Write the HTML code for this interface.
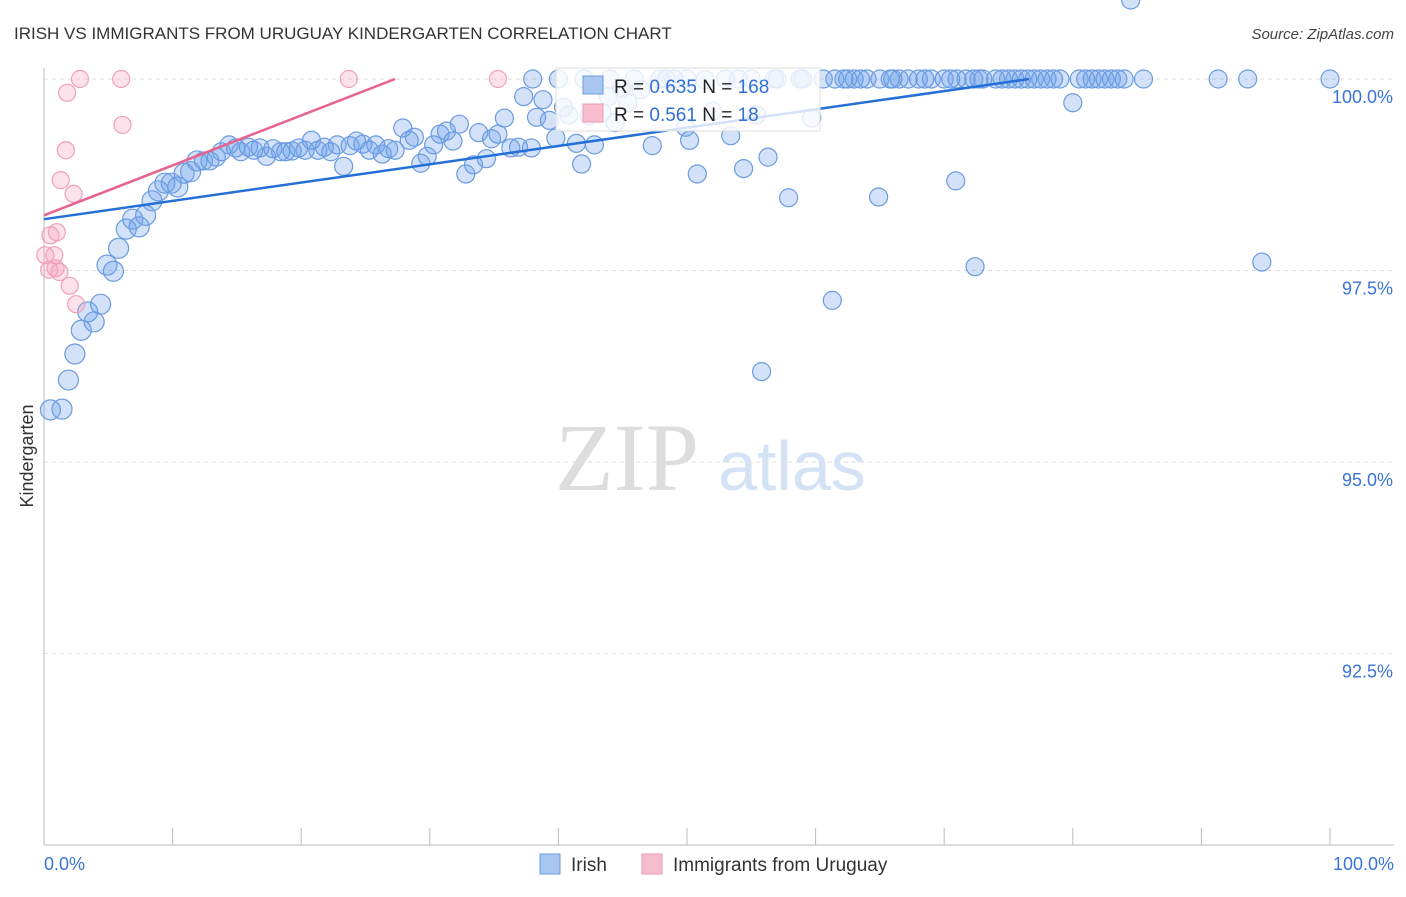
<!DOCTYPE html>
<html><head><meta charset="utf-8"><style>
body{margin:0;background:#fff;width:1406px;height:892px;overflow:hidden;font-family:"Liberation Sans",sans-serif}
</style></head><body>
<svg id="chart" width="1406" height="892" xmlns="http://www.w3.org/2000/svg">
<text x="14" y="39" font-size="17" fill="#333">IRISH VS IMMIGRANTS FROM URUGUAY KINDERGARTEN CORRELATION CHART</text>
<text x="1394" y="39" font-size="15" fill="#444" text-anchor="end" font-style="italic">Source: ZipAtlas.com</text>
<text x="555" y="490" font-size="96" fill="#ddd" font-family="Liberation Serif,serif">ZIP</text>
<text x="718" y="490" font-size="70" fill="#d4e2f6">atlas</text>
<text transform="translate(33,456) rotate(-90)" font-size="18" fill="#333" text-anchor="middle">Kindergarten</text>
<g id="grid"></g><g id="marks"></g><g id="lines"></g>
<g>
<rect x="556" y="68" width="264" height="63" fill="#fff" fill-opacity="0.8" stroke="#ddd"/>
<rect x="583" y="76" width="20" height="18" fill="#a9c6f0" stroke="#6a9be0"/>
<rect x="583" y="104" width="20" height="18" fill="#f7bccd" stroke="#ee9ab4"/>
<text x="614" y="93" font-size="19" fill="#222">R = <tspan fill="#2f6fd6">0.635</tspan>   N = <tspan fill="#2f6fd6">168</tspan></text>
<text x="614" y="121" font-size="19" fill="#222">R =  <tspan fill="#2f6fd6">0.561</tspan>   N =   <tspan fill="#2f6fd6">18</tspan></text>
</g>
<g>
<rect x="540" y="854" width="20" height="20" fill="#a9c6f0" stroke="#6a9be0"/>
<text x="571" y="871" font-size="19" fill="#333">Irish</text>
<rect x="642" y="854" width="20" height="20" fill="#f7bccd" stroke="#ee9ab4"/>
<text x="673" y="871" font-size="19" fill="#333">Immigrants from Uruguay</text>
</g>
<text x="44" y="870" font-size="18" fill="#3a74d8">0.0%</text>
<text x="1394" y="870" font-size="18" fill="#3a74d8" text-anchor="end">100.0%</text>
</svg>
<script>
const yTicks=[100,97.5,95,92.5];
const yTickLabels=["100.0%","97.5%","95.0%","92.5%"];
const xTicks=[0,10,20,30,40,50,60,70,80,90,100];
const irishX=[0.5,1.4,1.9,2.4,2.9,3.9,3.4,4.4,4.9,5.4,5.8,6.4,7.4,6.9,7.9,8.4,8.9,9.4,9.9,10.4,10.9,11.4,11.9,12.4,12.9,13.4,13.8,14.4,14.9,15.3,15.9,16.3,16.8,17.3,17.8,18.4,18.8,19.3,19.8,20.3,20.8,21.3,21.8,22.3,22.8,23.3,23.8,24.3,24.8,25.3,25.8,26.3,26.8,27.3,27.9,28.4,28.8,29.3,29.8,30.3,30.8,31.3,31.8,32.3,32.8,33.4,33.8,34.4,34.8,35.3,35.8,36.3,36.9,37.3,37.9,38.3,38.8,39.3,39.8,40.4,40.8,41.4,41.8,42.4,42.8,43.4,43.9,44.4,44.9,45.4,46.4,47.3,49.9,50.2,50.8,52.0,53.4,54.4,55.4,55.8,56.3,57.9,59.7,61.3,64.9,70.9,72.4,80.0,94.7,
45.9,47.9,48.4,51.4,56.8,58.8,60.6,61.5,62.2,63,64,65,65.8,66.5,67.2,68,69,70,71,71.7,72.3,73,74,74.5,75,76,77,77.5,78,79,80.5,81.5,82,83,83.5,84,85.5,91.3,93.6,100,38,40,42,44,49,50,53,54,55,57,59,62.5,63.5,66,68.5,70.5,72.7,75.5,76.5,78.5,81,82.5,84.5];
const irishY=[95.68,95.69,96.07,96.41,96.72,96.83,96.96,97.06,97.57,97.49,97.79,98.04,98.07,98.17,98.22,98.41,98.54,98.64,98.64,98.59,98.77,98.79,98.93,98.93,98.93,98.98,99.05,99.14,99.10,99.05,99.11,99.07,99.10,98.99,99.09,99.05,99.05,99.06,99.10,99.07,99.20,99.07,99.11,99.05,99.14,98.86,99.13,99.19,99.15,99.07,99.14,99.02,99.09,99.07,99.36,99.20,99.24,98.90,98.99,99.14,99.28,99.32,99.19,99.41,98.76,98.88,99.30,98.96,99.22,99.28,99.49,99.10,99.11,99.77,99.10,99.50,99.73,99.46,99.23,99.63,99.53,99.16,98.89,99.52,99.14,99.56,99.77,99.43,99.88,99.69,99.86,99.13,99.37,99.20,98.76,99.58,99.26,98.83,99.53,96.18,98.98,98.45,99.49,97.11,98.46,98.67,97.55,99.69,97.61,
100,100,100,99.99,100,100,100,100,100,100,100,100,100,100,100,100,100,100,100,100,100,100,100,100,100,100,100,100,100,100,100,100,100,100,100,100,100,100,100,100,100,100,100,100,100,100,100,100,100,100,100,100,100,100,100,100,100,100,100,100,100,100];
const uruguayX=[0.4,0.8,0.5,1.0,0.9,1.2,1.3,1.7,1.8,2.3,2.0,2.5,2.8,6.0,6.1,23.7,35.3,0.1];
const uruguayY=[97.51,97.70,97.96,98.00,97.53,97.48,98.68,99.07,99.82,98.50,97.30,97.06,100,100,99.40,100,100,97.70];
const irishTrend=[[0,98.17],[76.6,100]];
const uruguayTrend=[[0,98.22],[27.3,100]];
const X=v=>44+v*12.86, Y=v=>79+(100-v)*76.6;
const NS="http://www.w3.org/2000/svg";
function mk(t,a,p){const e=document.createElementNS(NS,t);for(const k in a)e.setAttribute(k,a[k]);p.appendChild(e);return e;}
const grid=document.getElementById('grid'),marks=document.getElementById('marks'),lines=document.getElementById('lines');
yTicks.forEach((v,i)=>{
 const l=mk('line',{x1:44,x2:1394,y1:Y(v),y2:Y(v),stroke:'#ddd','stroke-dasharray':'4,4'},grid);
 
 
 const t=mk('text',{x:1393,y:Y(v)+24,'font-size':18,fill:'#3a74d8','text-anchor':'end'},grid);
 t.textContent=yTickLabels[i];
 
 
});
const ax=mk('line',{x1:44,x2:1394,y1:845,y2:845,stroke:'#bbb'},grid);


const ay=mk('line',{x1:44,x2:44,y1:68,y2:845,stroke:'#bbb'},grid);


xTicks.forEach(v=>{
 const l=mk('line',{x1:X(v),x2:X(v),y1:828,y2:845,stroke:'#bbb'},grid);
 
 
});
irishX.forEach((v,i)=>{
 const c=mk('circle',{cx:X(v),cy:Y(irishY[i]),r:v<12?10:9,fill:'rgba(110,160,235,0.3)',stroke:'#6a9be0','stroke-width':1.2},marks);
 
 
});
uruguayX.forEach((v,i)=>{
 const c=mk('circle',{cx:X(v),cy:Y(uruguayY[i]),r:8.5,fill:'rgba(245,160,190,0.3)',stroke:'#f0a0b8','stroke-width':1.2},marks);
 
 
});
const tb=mk('line',{x1:X(irishTrend[0][0]),y1:Y(irishTrend[0][1]),x2:X(irishTrend[1][0]),y2:Y(irishTrend[1][1]),stroke:'#2470d8','stroke-width':2.5},lines);


const tp=mk('line',{x1:X(uruguayTrend[0][0]),y1:Y(uruguayTrend[0][1]),x2:X(uruguayTrend[1][0]),y2:Y(uruguayTrend[1][1]),stroke:'#e8628e','stroke-width':2.5},lines);


</script>
</body></html>
